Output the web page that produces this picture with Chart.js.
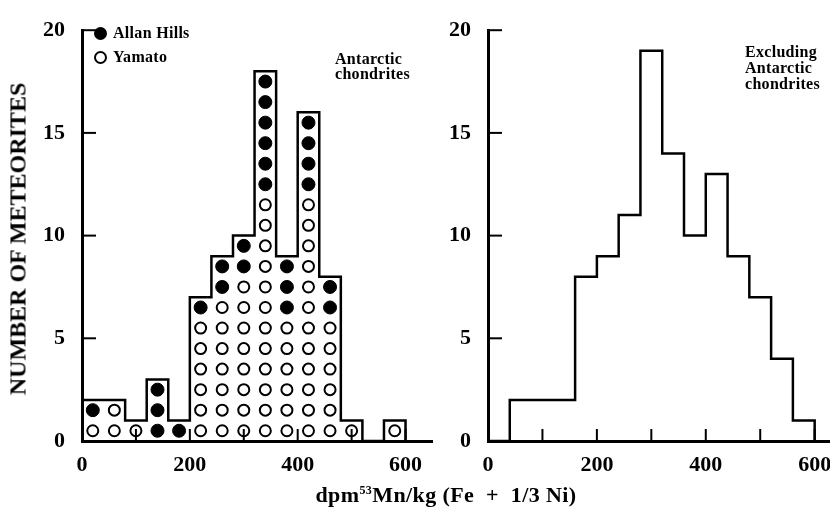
<!DOCTYPE html>
<html>
<head>
<meta charset="utf-8">
<script src="https://cdn.jsdelivr.net/npm/chart.js@4.4.1/dist/chart.umd.min.js"></script>
<style>
body { margin:0; width:830px; height:518px; overflow:hidden; background:#fff; position:relative;
       font-family:"Liberation Serif", "DejaVu Serif", serif; font-weight:bold; color:#000; }
.box { position:absolute; top:0; height:518px; }
.lbl { position:absolute; white-space:pre; }
.note { font-size:16px; letter-spacing:0.3px; }
.dot { position:absolute; width:9px; height:9px; border:2px solid #000; border-radius:50%; }
</style>
</head>
<body>
<div class="box" style="left:0;width:440px"><canvas id="left" width="440" height="518"></canvas></div>
<div class="box" style="left:440px;width:420px"><canvas id="right" width="420" height="518"></canvas></div>

<div class="lbl" id="ytitle" style="left:18px;top:239px;font-size:24px;transform:translate(-50%,-50%) rotate(-90deg)">NUMBER OF METEORITES</div>
<div class="lbl" style="left:446px;top:495px;font-size:22px;letter-spacing:0.4px;transform:translate(-50%,-50%)">dpm<sup style="font-size:12px">53</sup>Mn/kg (Fe  +  1/3 Ni)</div>

<div class="dot" style="left:94px;top:27px;background:#000"></div>
<div class="lbl note" style="left:113px;top:23px;line-height:19px">Allan Hills</div>
<div class="dot" style="left:94px;top:51px;background:#fff"></div>
<div class="lbl note" style="left:113px;top:47px;line-height:19px">Yamato</div>

<div class="lbl note" style="left:335px;top:51px;line-height:15px">Antarctic
chondrites</div>
<div class="lbl note" style="left:745px;top:44px;line-height:16px">Excluding
Antarctic
chondrites</div>

<script>
// bins are 40 units wide, start value of each bin
const binStart = [0, 40, 80, 120, 160, 200, 240, 280, 320, 360, 400, 440, 480, 520, 560];
const binWidth = 40;

// Antarctic chondrites (left panel)
const yamatoCount = [1, 2, 1, 0, 0, 6, 7, 8, 12, 6, 12, 6, 1, 0, 1];
const allanHillsCount = [1, 0, 0, 3, 1, 1, 2, 2, 6, 3, 4, 2, 0, 0, 0];

// Excluding Antarctic chondrites (right panel)
const otherCount = [0, 2, 2, 2, 8, 9, 11, 19, 14, 10, 13, 9, 7, 4, 1];

const xTicks = [0, 100, 200, 300, 400, 500, 600];
const yTicks = [0, 5, 10, 15, 20];

function stepOutline(counts) {
    let pts = binStart.map((s, i) => ({ x: s, y: counts[i] }));
    pts.push({ x: binStart[binStart.length - 1] + binWidth, y: 0 });
    return pts;
}

function circlePoints(lower, upper) {
    let pts = [];
    binStart.forEach((s, i) => {
        for (let k = lower[i]; k < lower[i] + upper[i]; k++) {
            pts.push({ x: s + binWidth / 2, y: k + 0.5 });
        }
    });
    return pts;
}

// tick marks drawn inside the plot
const innerTicks = {
    id: 'innerTicks',
    afterDraw(chart) {
        const ctx = chart.ctx;
        const xs = chart.scales.x, ys = chart.scales.y;
        ctx.save();
        ctx.strokeStyle = '#000';
        ctx.lineWidth = 2;
        xTicks.forEach(v => {
            if (v === 0) return;
            let px = xs.getPixelForValue(v);
            ctx.beginPath();
            ctx.moveTo(px, ys.bottom);
            ctx.lineTo(px, ys.bottom - 12);
            ctx.stroke();
        });
        yTicks.forEach(v => {
            if (v === 0) return;
            let py = ys.getPixelForValue(v);
            ctx.beginPath();
            ctx.moveTo(xs.left, py);
            ctx.lineTo(xs.left + 14, py);
            ctx.stroke();
        });
        ctx.restore();
    }
};

function makeOptions(xMax, yWidth, pad) {
    const tickFont = { family: '"Liberation Serif", serif', size: 22, weight: 'bold' };
    return {
        responsive: false,
        animation: false,
        layout: { padding: pad },
        plugins: { legend: { display: false }, tooltip: { enabled: false } },
        scales: {
            x: {
                type: 'linear', min: 0, max: xMax,
                grid: { display: false, drawTicks: false },
                border: { display: true, width: 3, color: '#000' },
                afterFit: s => { s.height = 77; },
                afterBuildTicks: s => { s.ticks = xTicks.map(v => ({ value: v })); },
                ticks: {
                    autoSkip: false, maxRotation: 0, padding: 11,
                    color: '#000', font: tickFont,
                    callback: v => (v % 200 === 0 ? v : '')
                }
            },
            y: {
                min: 0, max: 20,
                grid: { display: false, drawTicks: false },
                border: { display: true, width: 3, color: '#000' },
                afterFit: s => { s.width = yWidth; },
                afterBuildTicks: s => { s.ticks = yTicks.map(v => ({ value: v })); },
                ticks: { padding: 17, color: '#000', font: tickFont }
            }
        }
    };
}

new Chart(document.getElementById('left'), {
    type: 'scatter',
    data: {
        datasets: [
            {
                label: 'Antarctic chondrites',
                data: stepOutline(yamatoCount.map((v, i) => v + allanHillsCount[i])),
                showLine: true, stepped: 'before', borderColor: '#000', borderWidth: 2.5,
                pointRadius: 0, fill: false
            },
            {
                label: 'Yamato',
                data: circlePoints(yamatoCount.map(() => 0), yamatoCount),
                pointStyle: 'circle', pointRadius: 5.5, borderWidth: 2,
                borderColor: '#000', backgroundColor: '#fff'
            },
            {
                label: 'Allan Hills',
                data: circlePoints(yamatoCount, allanHillsCount),
                pointStyle: 'circle', pointRadius: 6.5, borderWidth: 1,
                borderColor: '#000', backgroundColor: '#000'
            }
        ]
    },
    options: makeOptions(650, 82, { left: 0, top: 16, right: 7, bottom: 0 }),
    plugins: [innerTicks]
});

new Chart(document.getElementById('right'), {
    type: 'scatter',
    data: {
        datasets: [{
            label: 'Excluding Antarctic chondrites',
            data: stepOutline(otherCount),
            showLine: true, stepped: 'before', borderColor: '#000', borderWidth: 2.5,
            pointRadius: 0, fill: false
        }]
    },
    options: makeOptions(630, 48, { left: 0, top: 14, right: 29, bottom: 0 }),
    plugins: [innerTicks]
});
</script>
</body>
</html>
